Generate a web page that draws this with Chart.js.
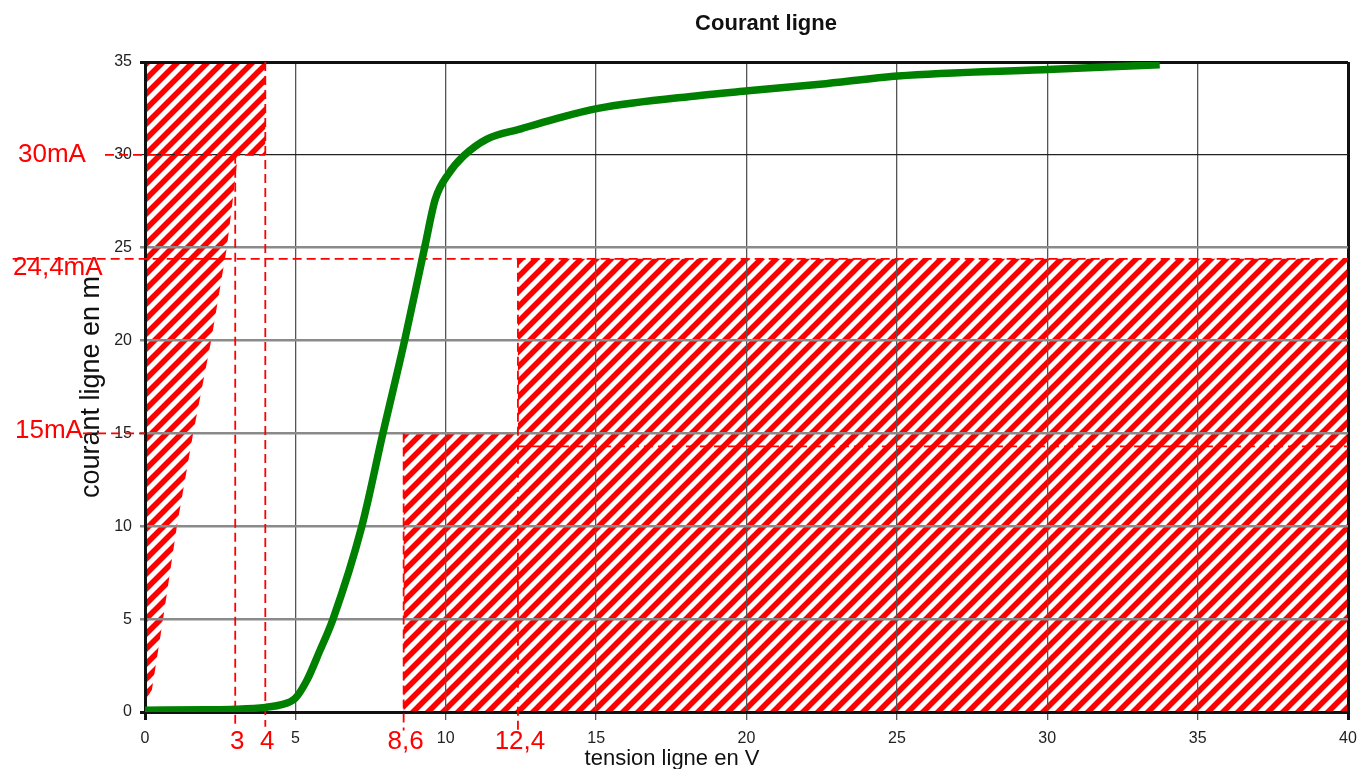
<!DOCTYPE html>
<html><head><meta charset="utf-8">
<script src="https://cdn.jsdelivr.net/npm/chart.js@4.4.1/dist/chart.umd.min.js"></script>
<style>html,body{margin:0;padding:0;background:#fff;} canvas{display:block;}</style>
</head><body>
<canvas id="c" width="1371" height="769"></canvas>
<script>
// ---- Data ----
const titre = 'Courant ligne';
const titreX = 'tension ligne en V';
const titreY = 'courant ligne en m';

// green curve: tension (V) / courant (mA)
const tensionV = [0, 2, 3, 4, 4.5, 5, 5.39, 5.8, 6.25, 7.21, 7.91, 8.64, 9.31, 9.65, 10.1, 10.6, 11.37, 12.5, 13.56, 15.06, 18.45, 20.05, 22.44, 25.03, 30.02, 33.74];
const courantI = [0.1, 0.12, 0.15, 0.25, 0.38, 0.75, 1.73, 3.25, 5.0, 10.0, 15.0, 20.06, 25.1, 27.6, 29.0, 29.95, 30.85, 31.4, 31.9, 32.5, 33.2, 33.45, 33.8, 34.25, 34.6, 34.85];

// hatched zones (polygons)
const zoneGaucheV = [0, 0.23, 0.6, 1.06, 1.6, 2.2, 2.72, 2.92, 3.09, 4, 4, 0];
const zoneGaucheI = [0.6, 1.2, 5, 10, 15, 20, 25, 27.6, 30, 30, 35, 35];
const zoneDroiteV = [8.6, 8.6, 12.4, 12.4, 40, 40];
const zoneDroiteI = [0, 15, 15, 24.4, 24.4, 0];

// red dashed reference lines
const tiretsH_I = [30, 24.4, 15, 14.3];
const tiretsH_debut = [-1.33, -4.4, -2.06, 12.4];
const tiretsH_fin = [4, 40, 0, 40];
const tiretsV_V = [3, 4, 8.6, 12.4];
const tiretsV_haut = [30, 35, 15, 24.4];
const tiretsV_bas = [-0.8, -0.8, -1.0, -1.0];

// red labels
const reperesI = [30, 24.4, 15];
const reperesIText = ['30mA', '24,4mA', '15mA'];
const reperesV = [3, 4, 8.6, 12.4];
const reperesVText = ['3', '4', '8,6', '12,4'];

// ---- Hatch pattern ----
function makeHatch() {
  const s = 15;
  const c = document.createElement('canvas');
  c.width = s; c.height = s;
  const g = c.getContext('2d');
  g.fillStyle = '#ffffff';
  g.fillRect(0, 0, s, s);
  g.strokeStyle = '#ff0000';
  g.lineWidth = 5.6;
  g.beginPath();
  for (const k of [0, s, 2 * s]) {
    g.moveTo(k - s - 5, s + 5);
    g.lineTo(k + 5, -5);
  }
  g.stroke();
  return g.createPattern(c, 'repeat');
}
const hatch = makeHatch();

const zip = (a, b) => a.map((v, i) => ({x: v, y: b[i]}));

const datasets = [];
datasets.push({
  label: 'courant', data: zip(tensionV, courantI),
  borderColor: '#008000', borderWidth: 7.5, pointRadius: 0,
  cubicInterpolationMode: 'monotone', fill: false, order: 0
});
for (let i = 0; i < tiretsH_I.length; i++) {
  datasets.push({
    data: [{x: tiretsH_debut[i], y: tiretsH_I[i]}, {x: tiretsH_fin[i], y: tiretsH_I[i]}],
    borderColor: '#ff0000', borderWidth: 1.8, borderDash: [9, 5], pointRadius: 0,
    fill: false, clip: false, order: 1
  });
}
for (let i = 0; i < tiretsV_V.length; i++) {
  datasets.push({
    data: [{x: tiretsV_V[i], y: tiretsV_haut[i]}, {x: tiretsV_V[i], y: tiretsV_bas[i]}],
    borderColor: '#ff0000', borderWidth: 1.8, borderDash: [9, 5], pointRadius: 0,
    fill: false, clip: false, order: 1
  });
}
datasets.push({
  data: zip(zoneGaucheV, zoneGaucheI), backgroundColor: hatch,
  borderColor: 'rgba(0,0,0,0)', borderWidth: 0, pointRadius: 0, fill: 'shape', order: 2
});
datasets.push({
  data: zip(zoneDroiteV, zoneDroiteI), backgroundColor: hatch,
  borderColor: 'rgba(0,0,0,0)', borderWidth: 0, pointRadius: 0, fill: 'shape', order: 2
});

const textes = {
  id: 'textes',
  afterDraw(chart) {
    const {ctx, scales: {x, y}} = chart;
    ctx.save();
    ctx.fillStyle = '#111';
    ctx.textAlign = 'center';
    ctx.textBaseline = 'middle';
    ctx.font = 'bold 22px "Liberation Sans", Arial, sans-serif';
    ctx.fillText(titre, 766, 24);
    ctx.textBaseline = 'alphabetic';
    ctx.font = '22px "Liberation Sans", Arial, sans-serif';
    ctx.fillText(titreX, 672, 765);

    ctx.fillStyle = '#ff0000';
    ctx.font = '26px "Liberation Sans", Arial, sans-serif';
    ctx.textAlign = 'left';
    const lx = [18, 13, 15];
    const dy = [7, 16, 5];
    reperesI.forEach((v, i) => ctx.fillText(reperesIText[i], lx[i], y.getPixelForValue(v) + dy[i]));
    ctx.textAlign = 'center';
    reperesV.forEach((v, i) => ctx.fillText(reperesVText[i], x.getPixelForValue(v) + 2, 749));
    ctx.restore();
  }
};

const tv = c => (c.tick ? c.tick.value : 0);

new Chart(document.getElementById('c'), {
  type: 'line',
  data: {datasets},
  plugins: [textes],
  options: {
    responsive: false, animation: false, events: [],
    layout: {padding: {left: 0, right: 23, top: 62, bottom: 0}},
    plugins: {legend: {display: false}, tooltip: {enabled: false}, title: {display: false},
      filler: {drawTime: 'beforeDraw'}},
    scales: {
      x: {
        type: 'linear', min: 0, max: 40,
        afterFit: s => { s.height = 57; },
        ticks: {stepSize: 5, padding: 9, color: '#222', font: {family: '"Liberation Sans", Arial, sans-serif', size: 16}},
        grid: {
          tickLength: 8,
          color: c => (tv(c) === 0 || tv(c) === 40) ? '#111' : '#555',
          lineWidth: c => (tv(c) === 0 || tv(c) === 40) ? 3 : 1.3
        },
        border: {display: true, color: '#111', width: 3}
      },
      y: {
        type: 'linear', min: 0, max: 35,
        afterFit: s => { s.width = 145; },
        title: {display: true, text: titreY, color: '#111', padding: {top: 75, bottom: 0},
          font: {family: '"Liberation Sans", Arial, sans-serif', size: 27}},
        ticks: {stepSize: 5, padding: 8, color: '#222', font: {family: '"Liberation Sans", Arial, sans-serif', size: 16}},
        grid: {
          tickLength: 5,
          color: c => (tv(c) === 0 || tv(c) === 35) ? '#111' : (tv(c) === 30 ? '#222' : '#8a8a8a'),
          lineWidth: c => (tv(c) === 0 || tv(c) === 35) ? 3 : (tv(c) === 30 ? 1.2 : 2.5)
        },
        border: {display: true, color: '#111', width: 3}
      }
    }
  }
});
</script>
</body></html>
